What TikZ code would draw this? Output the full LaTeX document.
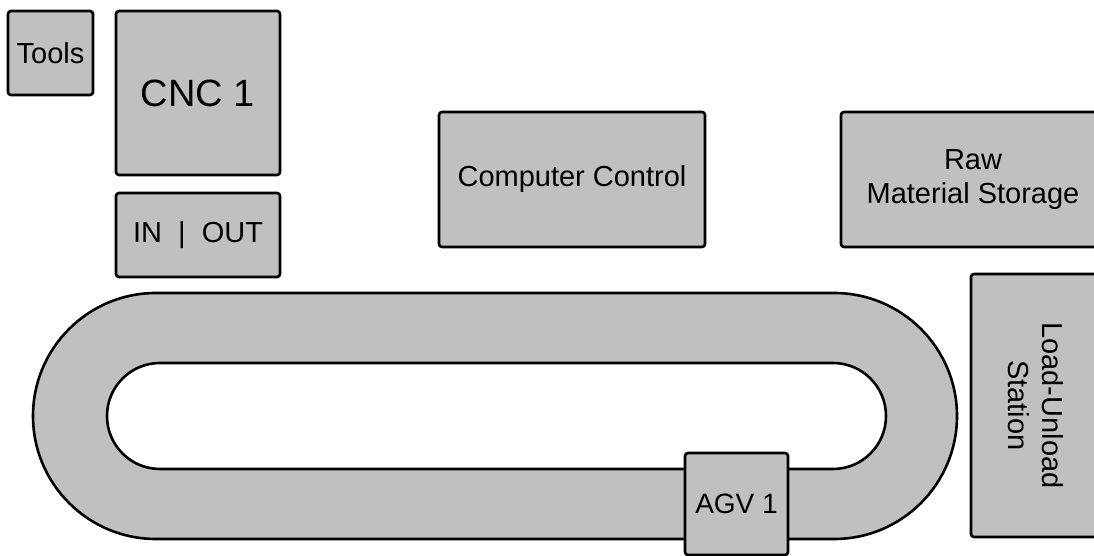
\documentclass[tikz,border=0pt]{standalone}
\usepackage{fontspec}
\setmainfont{Liberation Sans}
\definecolor{boxgray}{RGB}{192,192,192}
\begin{document}
\begin{tikzpicture}[x=1pt,y=1pt,
  box/.style={draw=black, fill=boxgray, line width=2.6pt, rounded corners=3pt,
    inner sep=0pt, align=center, font=\fontsize{29}{34}\selectfont},
  track/.style={draw=black, fill=boxgray, line width=2.6pt, even odd rule}]
\useasboundingbox (0,0) rectangle (1094,556);
\fill[white] (0,0) rectangle (1094,556);
% boxes
\node[box, minimum width=85pt, minimum height=84pt] (tools) at (50.5,503) {Tools};
\node[box, minimum width=164pt, minimum height=164pt, font=\fontsize{38}{44}\selectfont] (cnc) at (198,463) {CNC 1};
\node[box, minimum width=164pt, minimum height=84pt] (inout) at (198,321) {IN\ \ |\ \ OUT};
\node[box, minimum width=266pt, minimum height=135pt] (ctrl) at (572,376.5) {Computer Control};
\node[box, minimum width=264pt, minimum height=135pt] (raw) at (973,376.5) {Raw\\Material Storage};
\node[box, rotate=-90, minimum width=263pt, minimum height=129pt] (load) at (1035.5,150.5) {Load-Unload\\Station};
% track
\path[track] (156,263) -- (834,263) arc[start angle=90, end angle=-90, radius=123] -- (156,17) arc[start angle=270, end angle=90, radius=123] -- cycle
  (160,193) -- (833,193) arc[start angle=90, end angle=-90, radius=53] -- (160,87) arc[start angle=270, end angle=90, radius=53] -- cycle;
% AGV
\node[box, minimum width=103pt, minimum height=102pt, font=\fontsize{28}{33}\selectfont] (agv) at (736.5,52) {AGV 1};
\end{tikzpicture}
\end{document}
